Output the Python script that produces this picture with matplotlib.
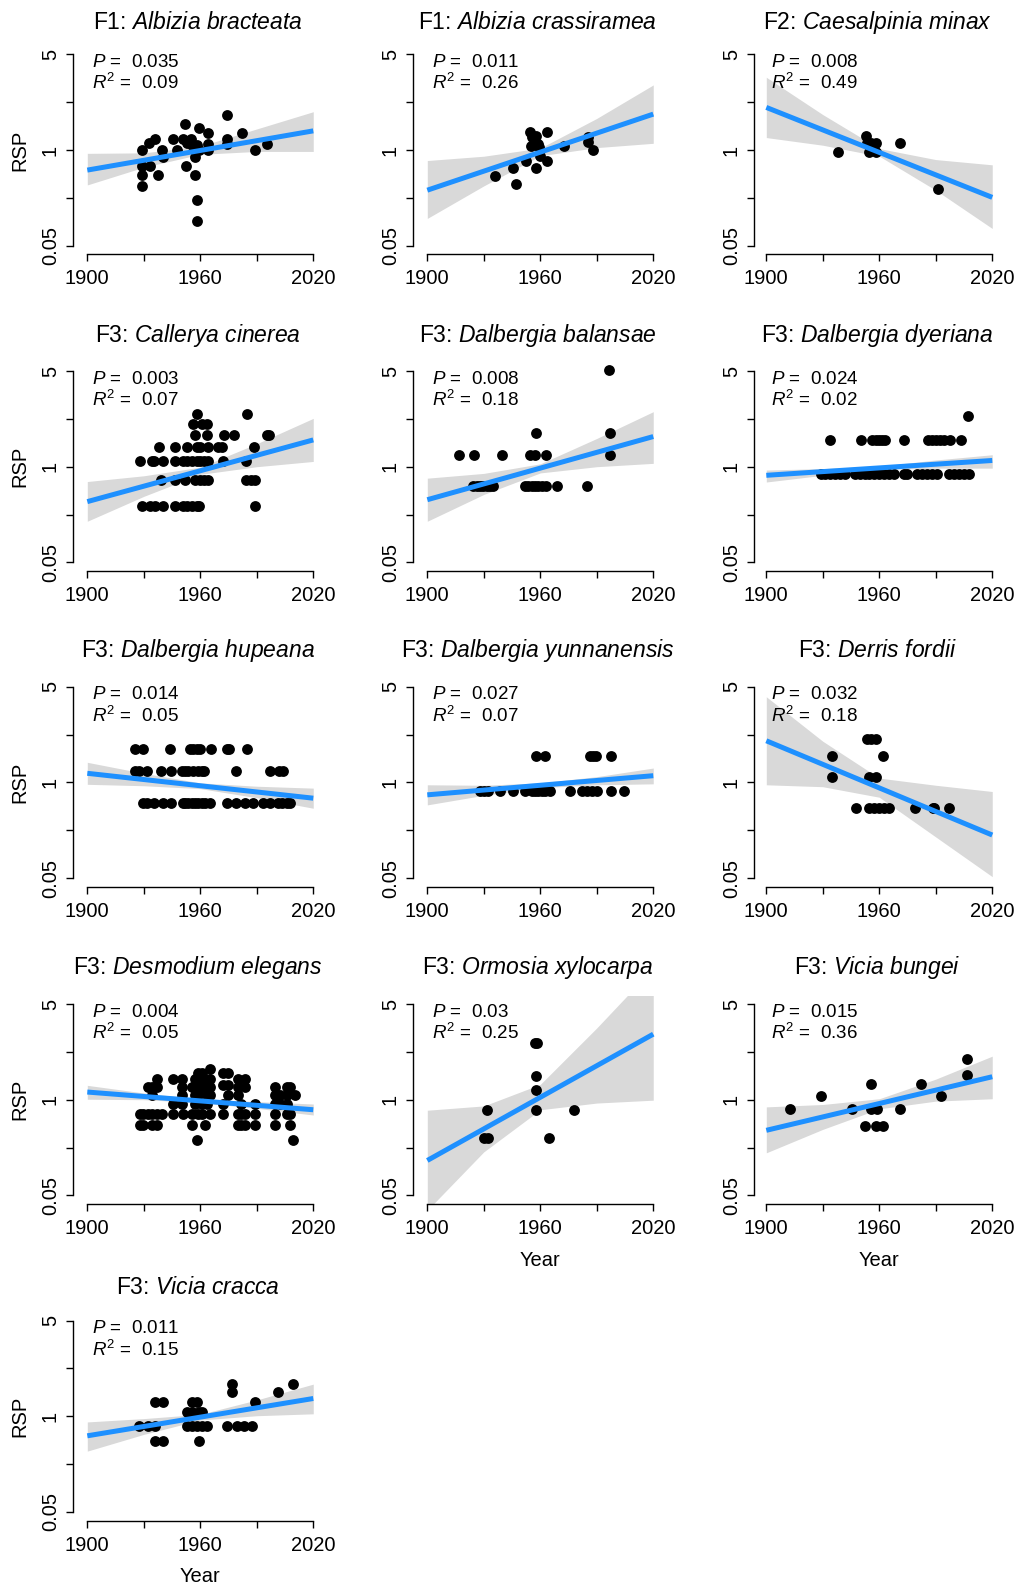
import matplotlib
matplotlib.use('Agg')
import matplotlib.pyplot as plt

plt.rcParams['font.family'] = ['Liberation Sans', 'DejaVu Sans']
plt.rcParams['mathtext.fontset'] = 'custom'
plt.rcParams['mathtext.rm'] = 'Liberation Sans'
plt.rcParams['mathtext.it'] = 'Liberation Sans:italic'

# ---- panel labels and stats -------------------------------------------
groups = ['F1', 'F1', 'F2', 'F3', 'F3', 'F3', 'F3', 'F3', 'F3',
          'F3', 'F3', 'F3', 'F3']
species = ['Albizia bracteata', 'Albizia crassiramea', 'Caesalpinia minax',
           'Callerya cinerea', 'Dalbergia balansae', 'Dalbergia dyeriana',
           'Dalbergia hupeana', 'Dalbergia yunnanensis', 'Derris fordii',
           'Desmodium elegans', 'Ormosia xylocarpa', 'Vicia bungei',
           'Vicia cracca']
p_values = ['0.035', '0.011', '0.008', '0.003', '0.008', '0.024', '0.014',
            '0.027', '0.032', '0.004', '0.03', '0.015', '0.011']
r2_values = ['0.09', '0.26', '0.49', '0.07', '0.18', '0.02', '0.05',
             '0.07', '0.18', '0.05', '0.25', '0.36', '0.15']

# y values are in axis units: 0 -> "0.05", 2 -> "1", 4 -> "5"
y_ticks = [0, 1, 2, 3, 4]
y_labels = ['0.05', '', '1', '', '5']
x_ticks = [1900, 1930, 1960, 1990, 2020]
x_labels = ['1900', '', '1960', '', '2020']

# ---- fitted line and confidence band ----------------------------------
fit_years = [1900, 2020]
fit_start = [1.58, 1.16, 2.89, 1.27, 1.31, 1.82, 2.19, 1.74, 2.87, 2.16, 0.73, 1.36, 1.59]
fit_end = [2.40, 2.75, 1.01, 2.56, 2.63, 2.13, 1.67, 2.14, 0.90, 1.79, 3.37, 2.48, 2.37]

band_years = [1900, 1930, 1960, 1990, 2020]
band_upper = [
    [1.93, 1.94, 2.08, 2.44, 2.80],
    [1.78, 1.87, 2.04, 2.66, 3.36],
    [3.52, 2.74, 2.03, 1.80, 1.69],
    [1.69, 1.81, 1.99, 2.48, 3.01],
    [1.76, 1.86, 2.06, 2.59, 3.15],
    [1.93, 1.96, 2.01, 2.14, 2.25],
    [2.42, 2.19, 1.99, 1.92, 1.88],
    [1.95, 1.94, 1.99, 2.12, 2.30],
    [3.79, 2.86, 2.09, 1.94, 1.81],
    [2.30, 2.14, 2.01, 1.96, 1.91],
    [1.78, 1.87, 2.32, 3.50, 4.75],
    [1.85, 1.90, 2.02, 2.43, 2.91],
    [1.88, 1.95, 2.04, 2.34, 2.67],
]
band_lower = [
    [1.27, 1.64, 1.91, 1.97, 1.97],
    [0.57, 1.25, 1.88, 2.05, 2.14],
    [2.26, 2.10, 1.87, 1.16, 0.36],
    [0.86, 1.38, 1.84, 2.00, 2.11],
    [0.86, 1.42, 1.87, 2.00, 2.07],
    [1.68, 1.82, 1.94, 1.97, 1.97],
    [1.96, 1.93, 1.87, 1.68, 1.46],
    [1.53, 1.73, 1.89, 1.95, 1.97],
    [1.95, 1.91, 1.69, 0.86, 0.03],
    [2.01, 2.00, 1.94, 1.82, 1.68],
    [-0.31, 0.91, 1.79, 1.93, 1.99],
    [0.89, 1.38, 1.81, 1.97, 2.02],
    [1.27, 1.62, 1.92, 2.01, 2.05],
]

# ---- observations ------------------------------------------------------
bracteata_year = [1929.2, 1929.2, 1929.2, 1929.2, 1932.9, 1933.3, 1936.1, 1937.7,
                  1939.5, 1940.4, 1945.7, 1947.4, 1952.0, 1950.6, 1952.2, 1952.7,
                  1954.9, 1955.4, 1957.2, 1957.2, 1958.0, 1958.4, 1958.4, 1959.3,
                  1959.5, 1964.2, 1964.2, 1964.2, 1974.0, 1974.0, 1974.0, 1982.1,
                  1989.2, 1995.2]
bracteata_rsp = [1.99, 1.67, 1.48, 1.25, 2.14, 1.67, 2.24, 1.48,
                 1.99, 1.86, 2.24, 1.99, 2.54, 2.24, 1.67, 2.14,
                 2.24, 2.10, 1.86, 1.48, 2.10, 0.95, 0.52, 2.47,
                 1.99, 2.35, 2.13, 1.99, 2.73, 2.24, 2.13, 2.35,
                 1.99, 2.13]

crassiramea_year = [1935.9, 1945.7, 1946.9, 1952.4, 1954.5, 1954.9, 1955.4, 1957.7,
                    1957.7, 1958.6, 1959.1, 1959.8, 1963.7, 1963.7, 1972.7, 1985.5,
                    1985.5, 1987.8]
crassiramea_rsp = [1.46, 1.62, 1.29, 1.76, 2.37, 2.09, 2.28, 2.29,
                   1.62, 2.13, 2.07, 1.88, 2.37, 1.76, 2.09, 2.28,
                   2.17, 1.99]

minax_year = [1938.0, 1952.8, 1953.3, 1954.6, 1955.8, 1957.2, 1958.1, 1958.1,
              1971.1, 1991.0]
minax_rsp = [1.95, 2.30, 2.14, 1.95, 2.14, 1.99, 2.14, 1.95, 2.14, 1.18]

cinerea_year = [1928.0, 1934.2, 1935.4, 1940.4, 1946.5, 1951.0, 1952.7, 1955.4,
                1958.1, 1959.8, 1961.9, 1964.2, 1972.2, 1984.2,
                1939.1, 1946.5, 1951.9, 1957.2, 1959.8, 1961.9, 1964.2, 1984.2,
                1986.7, 1989.0,
                1929.2, 1933.3, 1935.9, 1940.0, 1946.5, 1951.0, 1952.7, 1955.4,
                1958.1, 1959.5, 1989.0,
                1938.2, 1946.5, 1952.7, 1958.1, 1959.8, 1964.2, 1969.6, 1971.3,
                1988.5,
                1957.2, 1963.4, 1972.6, 1978.1, 1995.2, 1996.6,
                1956.3, 1960.7, 1963.4,
                1958.1, 1984.6]
cinerea_rsp = ([2.11] * 14 + [1.73] * 10 + [1.17] * 11 + [2.42] * 9
               + [2.66] * 6 + [2.89] * 3 + [3.10] * 2)

balansae_year = [1924.4, 1926.2, 1928.0, 1929.7, 1931.5, 1933.3, 1935.0, 1951.9,
                 1953.6, 1955.4, 1957.2, 1958.9, 1960.7, 1963.0, 1968.7, 1984.6,
                 1916.8, 1924.8, 1939.8, 1954.5, 1957.2, 1963.0, 1997.0,
                 1957.7, 1997.0,
                 1996.6]
balansae_rsp = [1.59] * 16 + [2.25] * 7 + [2.70] * 2 + [4.03]

dyeriana_year = [1929.1, 1931.4, 1934.0, 1936.7, 1939.3, 1942.0, 1947.3, 1950.0,
                 1952.6, 1954.4, 1957.1, 1959.7, 1962.4, 1965.0, 1967.7, 1973.0,
                 1974.8, 1980.1, 1982.8, 1985.4, 1988.1, 1990.7, 1997.0, 1999.6,
                 2002.3, 2004.9, 2007.6,
                 1933.7, 1950.5, 1956.2, 1958.0, 1959.7, 1961.5, 1963.3, 1973.0,
                 1985.8, 1988.1, 1989.9, 1992.5, 1994.3, 1997.5, 2003.2,
                 2007.1]
dyeriana_rsp = [1.85] * 27 + [2.56] * 15 + [3.06]

hupeana_year = [1925.3, 1929.4, 1943.9, 1954.5, 1956.3, 1958.1, 1959.8, 1965.5,
                1974.0, 1975.4, 1984.6,
                1925.3, 1927.6, 1931.5, 1938.9, 1944.2, 1950.1, 1951.9, 1953.6,
                1956.3, 1958.9, 1960.7, 1961.9, 1978.9, 1997.0, 2001.9, 2004.1,
                1929.4, 1931.5, 1935.4, 1940.4, 1944.2, 1950.6, 1951.9, 1953.6,
                1955.4, 1957.2, 1958.9, 1960.7, 1962.5, 1965.1, 1974.0, 1978.9,
                1983.7, 1988.1, 1993.5, 1997.0, 2001.4, 2003.2, 2005.8, 2007.6]
hupeana_rsp = [2.69] * 11 + [2.24] * 16 + [1.57] * 24

yunnanensis_year = [1928.0, 1930.1, 1932.4, 1938.6, 1945.3, 1951.9, 1955.4, 1957.2,
                    1958.9, 1960.7, 1962.5, 1965.1, 1975.8, 1982.0, 1984.6, 1987.3,
                    1989.9, 1997.3, 2004.4,
                    1957.7, 1962.5, 1986.4, 1988.1, 1989.6, 1997.3]
yunnanensis_rsp = [1.83] * 19 + [2.56] * 6

fordii_year = [1934.7, 1934.7, 1947.8, 1953.7, 1955.5, 1958.1, 1954.6, 1958.1,
               1954.6, 1957.2, 1959.9, 1962.6, 1965.2, 1962.2, 1978.9, 1988.4,
               1989.2, 1997.2]
fordii_rsp = [2.55, 2.12, 1.47, 2.90, 2.90, 2.90, 2.12, 2.12,
              1.47, 1.47, 1.47, 1.47, 1.47, 2.55, 1.47, 1.47,
              1.47, 1.47]

desmodium_year = [
    1928.0, 1928.0, 1929.7, 1929.7, 1932.4, 1932.4,
    1934.2, 1934.2, 1934.2, 1934.2, 1936.8, 1936.8, 1936.8, 1936.8,
    1939.5, 1945.7, 1945.7, 1945.7, 1950.1, 1950.1, 1950.1, 1950.1,
    1951.0, 1955.4, 1955.4, 1955.4, 1957.2, 1957.2, 1957.2, 1957.2,
    1958.1, 1958.9, 1958.9, 1958.9, 1958.9, 1958.9,
    1960.7, 1960.7, 1960.7, 1960.7, 1960.7, 1962.5, 1962.5, 1962.5,
    1963.4, 1963.4, 1965.1, 1965.1, 1965.1, 1965.1, 1965.1,
    1972.2, 1972.2, 1972.2, 1972.2, 1974.9, 1974.9, 1974.9,
    1980.2, 1980.2, 1980.2, 1980.2, 1980.2, 1981.4, 1981.4, 1981.4,
    1983.7, 1983.7, 1983.7, 1983.7, 1989.0, 1989.0, 1989.0,
    1999.6, 1999.6, 1999.6, 1999.6, 1999.6, 2002.3, 2002.3,
    2006.2, 2006.2, 2006.2, 2006.2, 2007.6, 2007.6, 2007.6, 2009.0, 2010.3]
desmodium_rsp = [
    1.71, 1.47, 1.71, 1.47, 2.27, 1.71,
    2.27, 2.09, 1.71, 1.47, 2.44, 2.27, 1.71, 1.47,
    1.71, 2.44, 1.92, 1.71, 2.44, 2.27, 2.09, 1.92,
    1.71, 2.27, 1.71, 1.47, 2.44, 2.27, 2.09, 1.92,
    1.15, 2.55, 2.37, 2.27, 2.09, 1.71,
    2.55, 2.44, 2.27, 1.92, 1.71, 2.44, 2.27, 1.47,
    2.09, 1.92, 2.65, 2.44, 2.27, 2.09, 1.71,
    2.55, 2.30, 1.92, 1.71, 2.55, 2.30, 2.09,
    2.44, 2.27, 2.09, 1.71, 1.47, 1.92, 1.71, 1.47,
    2.44, 2.27, 1.71, 1.47, 1.92, 1.71, 1.47,
    2.27, 2.09, 1.92, 1.71, 1.47, 2.09, 1.92,
    2.27, 2.09, 1.92, 1.71, 2.27, 1.71, 1.47, 1.15, 2.09]

ormosia_year = [1931.5, 1930.1, 1932.4, 1957.2, 1958.1, 1957.7, 1957.7, 1957.7,
                1964.6, 1977.9]
ormosia_rsp = [1.79, 1.21, 1.21, 3.19, 3.19, 2.50, 2.20, 1.79, 1.21, 1.79]

bungei_year = [1912.8, 1929.1, 1945.6, 1952.6, 1955.8, 1955.8, 1958.0, 1958.8,
               1962.0, 1970.9, 1981.9, 1992.9, 2006.7, 2006.7]
bungei_rsp = [1.80, 2.08, 1.80, 1.45, 2.32, 1.80, 1.45, 1.80,
              1.45, 1.80, 2.32, 2.08, 2.85, 2.51]

cracca_year = [1927.7, 1932.5, 1935.7, 1940.0, 1935.7, 1935.7, 1940.0,
               1952.8, 1955.5, 1958.2, 1960.9, 1963.6,
               1952.8, 1955.5, 1959.3, 1960.9, 1959.3, 1955.5, 1958.2,
               1977.0, 1977.0, 1974.3, 1979.7, 1983.4, 1988.8, 1987.7,
               2001.1, 2009.2]
cracca_rsp = [1.80, 1.80, 2.30, 2.30, 1.80, 1.48, 1.48,
              1.80, 1.80, 1.80, 1.80, 1.80,
              2.09, 2.09, 2.09, 2.09, 1.48, 2.30, 2.30,
              2.68, 2.51, 1.80, 1.80, 1.80, 2.30, 1.80,
              2.51, 2.68]

points = [(bracteata_year, bracteata_rsp), (crassiramea_year, crassiramea_rsp),
          (minax_year, minax_rsp), (cinerea_year, cinerea_rsp),
          (balansae_year, balansae_rsp), (dyeriana_year, dyeriana_rsp),
          (hupeana_year, hupeana_rsp), (yunnanensis_year, yunnanensis_rsp),
          (fordii_year, fordii_rsp), (desmodium_year, desmodium_rsp),
          (ormosia_year, ormosia_rsp), (bungei_year, bungei_rsp),
          (cracca_year, cracca_rsp)]

# ---- layout (pixels of the 1017 x 1584 output) ------------------------
W, H, DPI = 1017, 1584, 100
col_axis = [72.7, 412.7, 753.7]      # y axis line
col_1900 = [87.3, 427.3, 766.3]      # x position of 1900
PPY = 1.883                          # px per year
row_top = [54.3, 371.0, 686.7, 1004.0, 1320.5]   # y position of "5"
PPU = 47.85                          # px per y unit
title_off = [25.0, 29.4, 29.4, 30.0, 26.0]
BOT, TOP = 8.7, 7.7                  # px below 0.05 / above 5
BLUE = '#1e90ff'
GREY = '#d9d9d9'

fig = plt.figure(figsize=(W / DPI, H / DPI), dpi=DPI)

for i in range(len(species)):
    r, c = divmod(i, 3)
    left = col_axis[c]
    right = col_1900[c] + 124.8 * PPY
    top = row_top[r] - TOP
    bottom = row_top[r] + 4 * PPU + BOT
    ax = fig.add_axes([left / W, 1 - bottom / H, (right - left) / W, (bottom - top) / H])
    ax.set_xlim(1900 - (col_1900[c] - col_axis[c]) / PPY, 2024.8)
    ax.set_ylim(-BOT / PPU, 4 + TOP / PPU)

    ax.fill_between(band_years, band_lower[i], band_upper[i], color=GREY, lw=0, zorder=1)
    yrs, rsp = points[i]
    ax.plot(yrs, rsp, 'o', color='black', ms=7.8, mew=0, zorder=2)
    ax.plot(fit_years, [fit_start[i], fit_end[i]], color=BLUE, lw=3.6,
            solid_capstyle='butt', zorder=3)

    for s in ['top', 'right']:
        ax.spines[s].set_visible(False)
    ax.spines['left'].set_bounds(0, 4)
    ax.spines['bottom'].set_bounds(1900, 2020)
    for s in ['left', 'bottom']:
        ax.spines[s].set_linewidth(1.0)
    ax.set_xticks(x_ticks)
    ax.set_xticklabels(x_labels)
    ax.set_yticks(y_ticks)
    ax.set_yticklabels(y_labels, rotation=90, va='center')
    ax.tick_params(length=5.3, width=1.0, labelsize=14.5)
    ax.tick_params(axis='x', pad=5.5)
    ax.tick_params(axis='y', pad=4)
    ax.patch.set_visible(False)

    ax.text(1900 + 5.0 / PPY, 4 - 12.6 / PPU, '$P$ =  ' + p_values[i],
            fontsize=13.5, ha='left', va='baseline')
    ax.text(1900 + 5.0 / PPY, 4 - 35 / PPU, '$R^2$ =  ' + r2_values[i],
            fontsize=13.5, ha='left', va='baseline')

    name = species[i].replace(' ', r'\ ')
    fig.text((left + right) / 2 / W, 1 - (row_top[r] - title_off[r]) / H,
             groups[i] + ': $\\mathit{' + name + '}$',
             fontsize=16.5, ha='center', va='baseline')

    if c == 0:
        fig.text(20 / W, 1 - (row_top[r] + 2 * PPU) / H, 'RSP', rotation=90,
                 fontsize=14.5, ha='center', va='center')
    if i >= 10:
        fig.text((col_1900[c] + 60 * PPY) / W, 1 - (bottom + 56) / H, 'Year',
                 fontsize=14.5, ha='center', va='center')

fig.savefig('out.png', dpi=DPI)
